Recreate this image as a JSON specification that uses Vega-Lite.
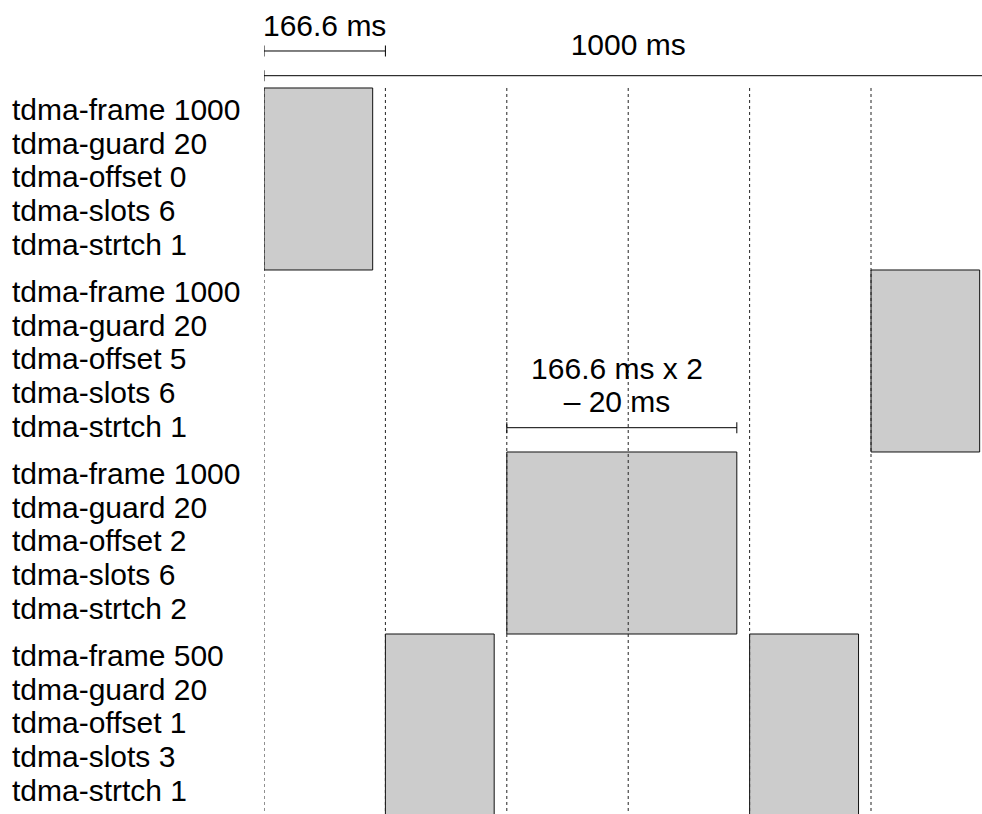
{
  "$schema": "https://vega.github.io/schema/vega-lite/v6.json",
  "width": 718,
  "height": 814,
  "autosize": {"type": "none"},
  "padding": {"left": 264, "top": 0, "right": 0, "bottom": 0},
  "background": "white",
  "config": {"view": {"stroke": null}, "text": {"font": "Liberation Sans", "fontSize": 30, "color": "#000000"}},
  "datasets": {
    "slots": [
      {"row": 0, "row_end": 1, "start": 0, "end": 149.2},
      {"row": 1, "row_end": 2, "start": 833.33, "end": 982.5},
      {"row": 2, "row_end": 3, "start": 333.33, "end": 649.1},
      {"row": 3, "row_end": 4, "start": 166.67, "end": 316.0},
      {"row": 3, "row_end": 4, "start": 666.67, "end": 816.2}
    ],
    "settings": [
      {"row": 0, "text": "tdma-frame 1000\ntdma-guard 20\ntdma-offset 0\ntdma-slots 6\ntdma-strtch 1"},
      {"row": 1, "text": "tdma-frame 1000\ntdma-guard 20\ntdma-offset 5\ntdma-slots 6\ntdma-strtch 1"},
      {"row": 2, "text": "tdma-frame 1000\ntdma-guard 20\ntdma-offset 2\ntdma-slots 6\ntdma-strtch 2"},
      {"row": 3, "text": "tdma-frame 500\ntdma-guard 20\ntdma-offset 1\ntdma-slots 3\ntdma-strtch 1"}
    ],
    "boundaries": [
      {"ms": 0}, {"ms": 166.67}, {"ms": 333.33}, {"ms": 500}, {"ms": 666.67}, {"ms": 833.33}
    ],
    "dims": [
      {"label": "166.6 ms", "from": 0, "to": 166.67, "y": -0.2033, "labelAt": 83.3, "labelY": -0.2874},
      {"label": "1000 ms", "from": 0, "to": 1000, "y": -0.0676, "labelAt": 500, "labelY": -0.1813},
      {"label": "166.6 ms x 2\n– 20 ms", "from": 333.33, "to": 649.1, "y": 1.8665, "labelAt": 484.6, "labelY": 1.5989}
    ],
    "dimEnds": [
      {"ms": 0, "y": -0.2033}, {"ms": 166.67, "y": -0.2033},
      {"ms": 0, "y": -0.0676}, {"ms": 1000, "y": -0.0676},
      {"ms": 333.33, "y": 1.8665}, {"ms": 649.1, "y": 1.8665}
    ]
  },
  "layer": [
    {
      "data": {"name": "slots"},
      "mark": {"type": "rect", "fill": "#cccccc", "stroke": "#111111", "strokeWidth": 1, "clip": true},
      "encoding": {
        "x": {"field": "start", "type": "quantitative", "scale": {"domain": [0, 985.7], "nice": false, "zero": false}, "axis": null},
        "x2": {"field": "end"},
        "y": {"field": "row", "type": "quantitative", "scale": {"domain": [-0.4835, 3.989], "reverse": true, "nice": false, "zero": false}, "axis": null},
        "y2": {"field": "row_end"}
      }
    },
    {
      "data": {"name": "boundaries"},
      "mark": {"type": "rule", "color": "#222222", "strokeWidth": 1, "strokeDash": [3, 3], "clip": true},
      "encoding": {
        "x": {"field": "ms", "type": "quantitative", "scale": {"domain": [0, 985.7], "nice": false, "zero": false}, "axis": null},
        "y": {"datum": 0, "type": "quantitative", "scale": {"domain": [-0.4835, 3.989], "reverse": true, "nice": false, "zero": false}, "axis": null},
        "y2": {"datum": 4}
      }
    },
    {
      "data": {"name": "dims"},
      "mark": {"type": "rule", "color": "#000000", "strokeWidth": 1, "clip": true},
      "encoding": {
        "x": {"field": "from", "type": "quantitative", "scale": {"domain": [0, 985.7], "nice": false, "zero": false}, "axis": null},
        "x2": {"field": "to"},
        "y": {"field": "y", "type": "quantitative", "scale": {"domain": [-0.4835, 3.989], "reverse": true, "nice": false, "zero": false}, "axis": null}
      }
    },
    {
      "data": {"name": "dimEnds"},
      "mark": {"type": "tick", "orient": "vertical", "color": "#000000", "size": 11, "thickness": 1, "opacity": 1, "clip": true},
      "encoding": {
        "x": {"field": "ms", "type": "quantitative", "scale": {"domain": [0, 985.7], "nice": false, "zero": false}, "axis": null},
        "y": {"field": "y", "type": "quantitative", "scale": {"domain": [-0.4835, 3.989], "reverse": true, "nice": false, "zero": false}, "axis": null}
      }
    },
    {
      "data": {"name": "dims"},
      "mark": {"type": "text", "align": "center", "baseline": "alphabetic", "lineBreak": "\n", "lineHeight": 33.4},
      "encoding": {
        "x": {"field": "labelAt", "type": "quantitative", "scale": {"domain": [0, 985.7], "nice": false, "zero": false}, "axis": null},
        "y": {"field": "labelY", "type": "quantitative", "scale": {"domain": [-0.4835, 3.989], "reverse": true, "nice": false, "zero": false}, "axis": null},
        "text": {"field": "label"}
      }
    },
    {
      "data": {"name": "settings"},
      "mark": {"type": "text", "align": "left", "baseline": "alphabetic", "lineBreak": "\n", "lineHeight": 33.7, "dx": -252, "dy": 32},
      "encoding": {
        "x": {"datum": 0, "type": "quantitative", "scale": {"domain": [0, 985.7], "nice": false, "zero": false}, "axis": null},
        "y": {"field": "row", "type": "quantitative", "scale": {"domain": [-0.4835, 3.989], "reverse": true, "nice": false, "zero": false}, "axis": null},
        "text": {"field": "text"}
      }
    }
  ]
}
